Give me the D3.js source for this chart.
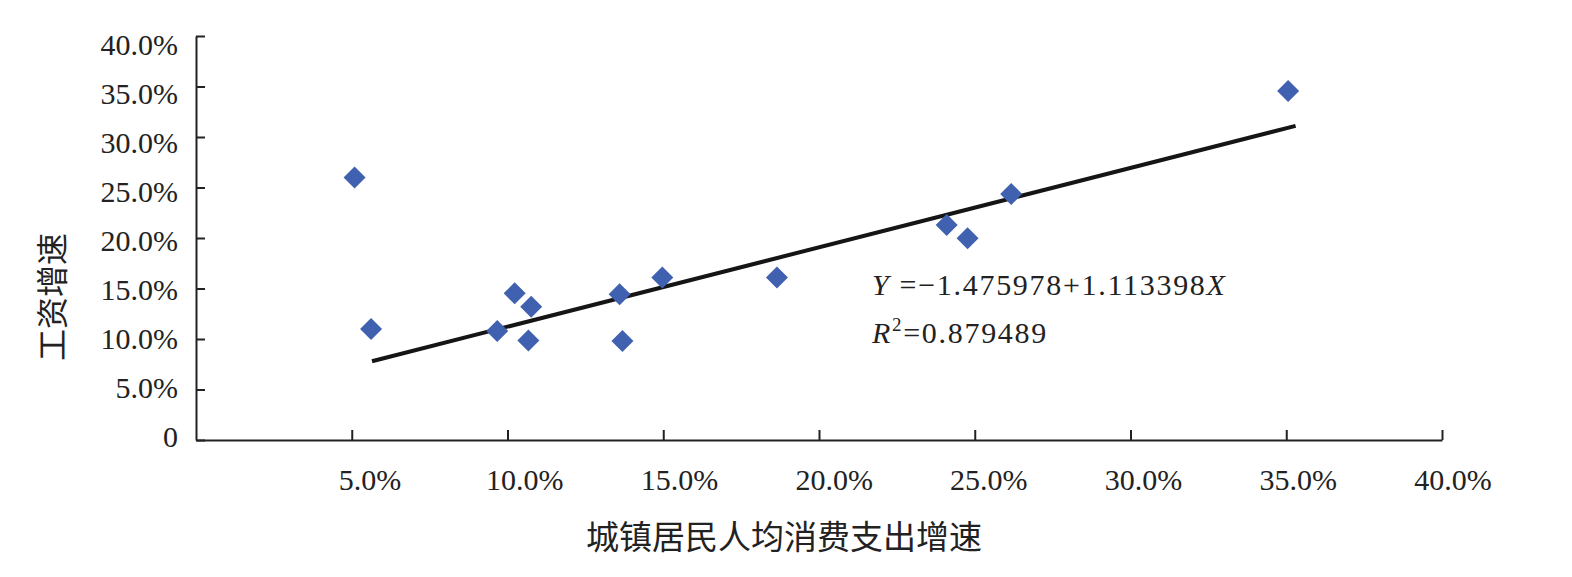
<!DOCTYPE html>
<html>
<head>
<meta charset="utf-8">
<script src="https://cdn.jsdelivr.net/npm/d3@7"></script>
<style>
    body { margin: 0; background: #fff; }
</style>
</head>
<body>
<svg id="chart" width="1572" height="577"></svg>
<script>

// 城镇居民人均消费支出增速 (x) vs 工资增速 (y), in percent
const consumeGrowth = [5.09, 5.62, 9.67, 10.23, 10.76, 10.67, 13.6, 13.69, 14.97, 18.65, 24.1, 24.77, 26.17, 35.06];
const wageGrowth = [26.0, 10.99, 10.79, 14.52, 13.2, 9.84, 14.42, 9.8, 16.1, 16.1, 21.29, 19.97, 24.36, 34.55];

// trend line end points as drawn
const trendX = [5.65, 35.3];
const trendY = [7.8, 31.1];

const xTicks = [5, 10, 15, 20, 25, 30, 35, 40];
const yTicks = [0, 5, 10, 15, 20, 25, 30, 35, 40];

const xTitle = "城镇居民人均消费支出增速";
const yTitle = "工资增速";

function makeChart(id) {

    let chart = d3.select("#" + id);
    let serif = "'Liberation Serif', 'Times New Roman', Times, serif";
    let cjk = "'Noto Sans CJK SC', sans-serif";
    let axisColor = "#222";

    let xScale = d3.scaleLinear().domain([0, 40]).range([196, 1442]);
    let yScale = d3.scaleLinear().domain([0, 40]).range([440, 36]);
    // labels sit slightly off the ticks in the original
    let xLabelScale = d3.scaleLinear().domain([5, 40]).range([370, 1453]);
    let yLabelScale = d3.scaleLinear().domain([0, 40]).range([437, 45]);

    let xAxis = chart.append("g")
        .attr("transform", `translate(0,${yScale(0)})`)
        .call(d3.axisBottom(xScale).tickValues(xTicks).tickSizeInner(-10).tickSizeOuter(0).tickFormat(""));

    let yAxis = chart.append("g")
        .attr("transform", `translate(${xScale(0)},0)`)
        .call(d3.axisLeft(yScale).tickValues(yTicks).tickSizeInner(-9).tickSizeOuter(0).tickFormat(""));

    [xAxis, yAxis].forEach(ax => {
        ax.select(".domain").attr("stroke", axisColor).attr("stroke-width", 2);
        ax.selectAll(".tick line").attr("stroke", axisColor).attr("stroke-width", 2);
    });

    chart.selectAll(".xlabel").data(xTicks).enter().append("text")
        .attr("class", "xlabel")
        .attr("x", d => xLabelScale(d))
        .attr("y", 490)
        .attr("text-anchor", "middle")
        .style("font-family", serif)
        .style("font-size", "30px")
        .style("fill", "#222")
        .text(d => d.toFixed(1) + "%");

    chart.selectAll(".ylabel").data(yTicks).enter().append("text")
        .attr("class", "ylabel")
        .attr("x", 178)
        .attr("y", d => yLabelScale(d))
        .attr("dy", "0.34em")
        .attr("text-anchor", "end")
        .style("font-family", serif)
        .style("font-size", "30px")
        .style("fill", "#222")
        .text(d => d === 0 ? "0" : d.toFixed(1) + "%");

    chart.append("text")
        .attr("x", 784)
        .attr("y", 549)
        .attr("text-anchor", "middle")
        .style("font-family", cjk)
        .style("font-size", "33px")
        .style("fill", "#222")
        .text(xTitle);

    chart.append("text")
        .attr("transform", "translate(64,297) rotate(-90)")
        .attr("text-anchor", "middle")
        .style("font-family", cjk)
        .style("font-size", "32px")
        .style("fill", "#222")
        .text(yTitle);

    // trend line
    let line = d3.line().x(d => xScale(d[0])).y(d => yScale(d[1]));
    chart.append("path")
        .datum(d3.zip(trendX, trendY))
        .attr("d", line)
        .attr("fill", "none")
        .attr("stroke", "#151515")
        .attr("stroke-width", 4);

    // diamonds
    let diamond = d3.symbol().type(d3.symbolSquare).size(242);
    chart.selectAll(".pt").data(d3.zip(consumeGrowth, wageGrowth)).enter().append("path")
        .attr("class", "pt")
        .attr("d", diamond)
        .attr("transform", d => `translate(${xScale(d[0])},${yScale(d[1])}) rotate(45)`)
        .style("fill", "#4060b0");

    // regression equation
    let eq = chart.append("text")
        .attr("x", 872)
        .attr("y", 295)
        .style("font-family", serif)
        .style("font-size", "30px")
        .style("letter-spacing", "1.7px")
        .style("fill", "#222");
    eq.append("tspan").style("font-style", "italic").text("Y");
    eq.append("tspan").text(" =\u22121.475978+1.113398");
    eq.append("tspan").style("font-style", "italic").text("X");

    let r2 = chart.append("text")
        .attr("x", 872)
        .attr("y", 343)
        .style("font-family", serif)
        .style("font-size", "30px")
        .style("letter-spacing", "1.7px")
        .style("fill", "#222");
    r2.append("tspan").style("font-style", "italic").text("R");
    r2.append("tspan").attr("dy", -12).style("font-size", "19px").text("2");
    r2.append("tspan").attr("dy", 12).text("=0.879489");
}

makeChart("chart");
</script>
</body>
</html>
